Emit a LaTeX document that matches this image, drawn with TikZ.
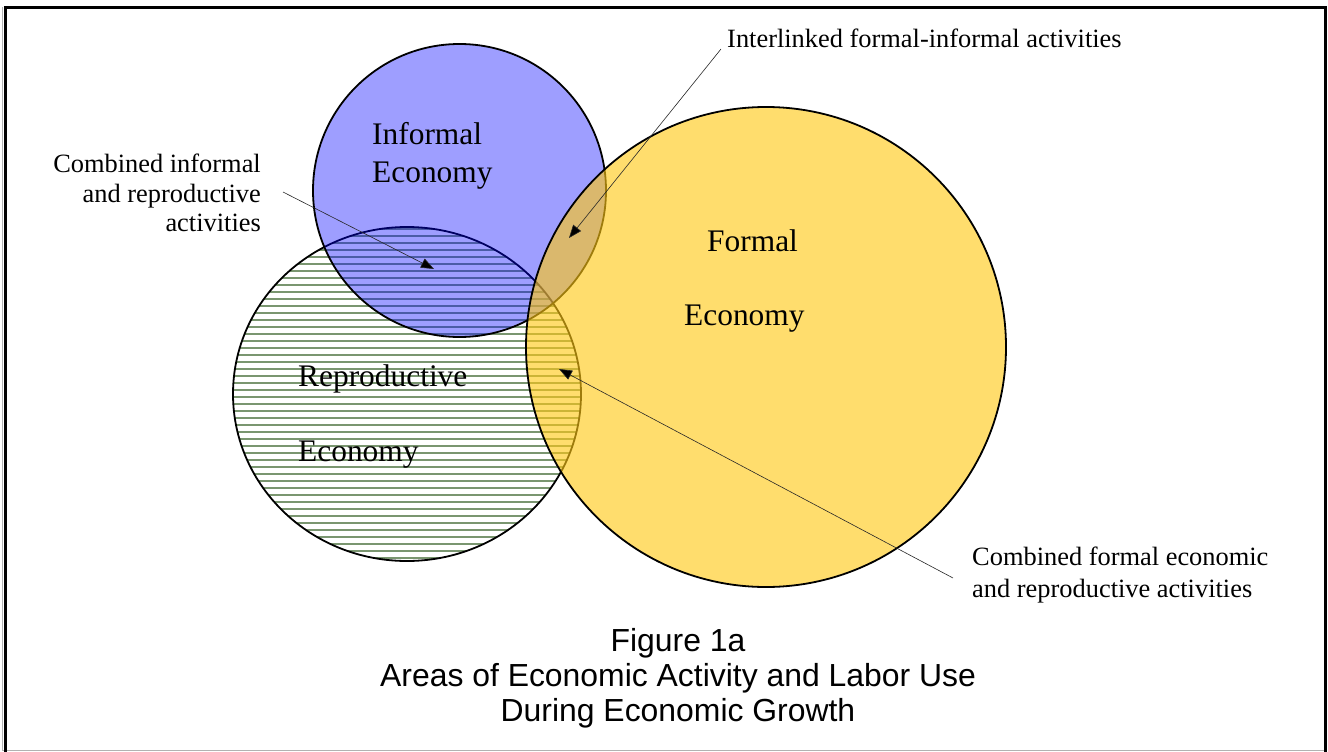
\documentclass[tikz,border=0pt]{standalone}
\usepackage{fontspec}
\setmainfont{Liberation Serif}
\newfontfamily\capfont{Liberation Sans}
\usetikzlibrary{shapes.geometric,arrows.meta}

\definecolor{hatchgreen}{RGB}{122,150,112}
\definecolor{infblue}{RGB}{0,0,255}
\definecolor{formyel}{RGB}{255,200,20}

\begin{document}
\begin{tikzpicture}[x=1pt,y=-1pt,
  bigtxt/.style={font=\fontsize{31.4}{39}\selectfont, inner sep=0pt},
  smalltxt/.style={font=\fontsize{26.4}{30}\selectfont, inner sep=0pt},
  captxt/.style={font=\capfont\fontsize{31.9}{35}\selectfont, inner sep=0pt},
  pointer/.style={draw=black!85, line width=0.6pt, -{Triangle[length=13pt,width=10pt,fill=black]}},
  area/.style={draw=black, line width=1.8pt, inner sep=0pt, outer sep=0pt}
]
\useasboundingbox (0,0) rectangle (1328,752);
\draw[black!30, line width=1pt] (2.5,7) -- (2.5,750.5) -- (1326,750.5);
\draw[line width=3pt] (5.5,7.5) rectangle (1325.5,760);

% reproductive economy (hatched)
\begin{scope}
  \clip (407,394) ellipse [x radius=174, y radius=167];
  \foreach \yy in {229,236,...,564} \draw[hatchgreen, line width=1.6pt] (230,\yy) -- (585,\yy);
\end{scope}
\node[area, ellipse, minimum width=348pt, minimum height=334pt] (repro) at (407,394) {};

% informal economy
\node[area, circle, minimum size=293pt, fill=infblue, fill opacity=0.38] (inf) at (459.5,190.5) {};

% formal economy
\node[area, circle, minimum size=480pt, fill=formyel, fill opacity=0.62] (form) at (766,347) {};

% area labels
\node[bigtxt, anchor=base west] (inft1) at (372,144) {Informal};
\node[bigtxt, anchor=base west] (inft2) at (372,182) {Economy};
\node[bigtxt, anchor=base west] (fort1) at (707,251) {Formal};
\node[bigtxt, anchor=base west] (fort2) at (684,325) {Economy};
\node[bigtxt, anchor=base west] (rept1) at (298,386) {Reproductive};
\node[bigtxt, anchor=base west] (rept2) at (298,461) {Economy};

% callouts
\node[smalltxt, anchor=base east] (ci1) at (261,172) {Combined informal};
\node[smalltxt, anchor=base east] (ci2) at (261,202) {and reproductive};
\node[smalltxt, anchor=base east] (ci3) at (261,231) {activities};
\node[smalltxt, anchor=base west] (il) at (727,48) {Interlinked formal-informal activities};
\node[smalltxt, anchor=base west] (cf1) at (972,565) {Combined formal economic};
\node[smalltxt, anchor=base west] (cf2) at (972,597) {and reproductive activities};

\coordinate (a1s) at (283,192); \coordinate (a1e) at (434,269);
\coordinate (a2s) at (721,49);  \coordinate (a2e) at (569,238);
\coordinate (a3s) at (953,578); \coordinate (a3e) at (559,369);
\draw[pointer] (a1s) -- (a1e);
\draw[pointer] (a2s) -- (a2e);
\draw[pointer] (a3s) -- (a3e);

% caption
\node[captxt, anchor=base] (cap1) at (678,651) {Figure 1a};
\node[captxt, anchor=base] (cap2) at (678,686) {Areas of Economic Activity and Labor Use};
\node[captxt, anchor=base] (cap3) at (678,721) {During Economic Growth};
\end{tikzpicture}
\end{document}
